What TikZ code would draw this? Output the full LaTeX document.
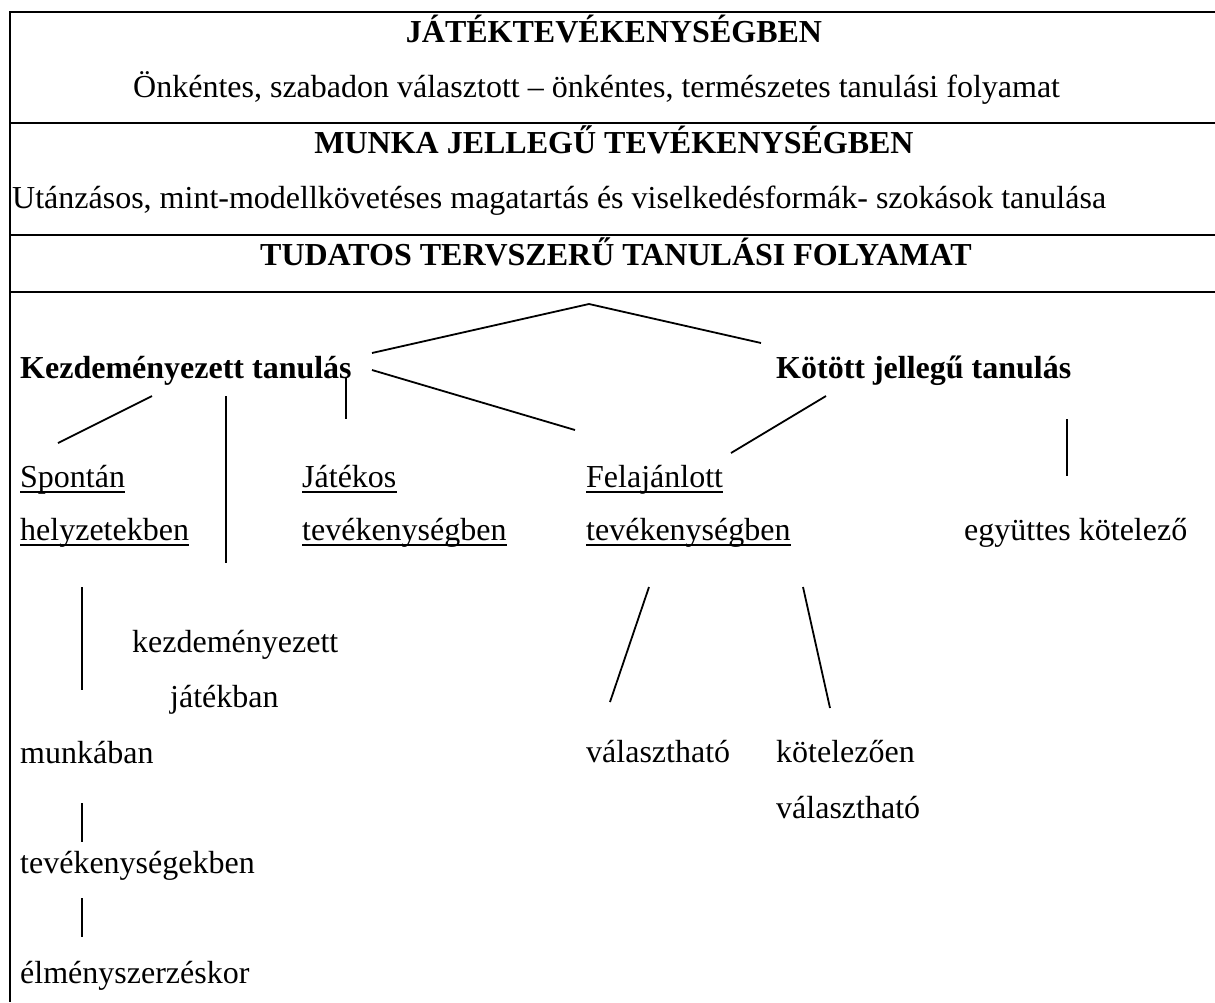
\documentclass[tikz,border=0pt]{standalone}
\usepackage{fontspec}
\setmainfont{Liberation Serif}
\tikzset{
  every node/.style={inner sep=0pt, font=\fontsize{32}{38}\selectfont},
  txt/.style={anchor=base west},
  hd/.style={anchor=base, font=\fontsize{32}{38}\selectfont\bfseries},
  bd/.style={anchor=base west, font=\fontsize{32}{38}\selectfont\bfseries},
  frame/.style={line width=2.6pt},
  branch/.style={line width=1.8pt},
  uline/.style={line width=1.6pt}
}

\begin{document}
\begin{tikzpicture}[x=1pt,y=-1pt]
  \useasboundingbox (0,0) rectangle (1215,1002);
  \draw[frame] (1215,12) -| (10,1002);
  \foreach \y in {123,235,292}
    \draw[frame] (10,\y) -- (1215,\y);

  \node[hd] (jat) at (614,42) {JÁTÉKTEVÉKENYSÉGBEN};
  \node[txt] (onk) at (133,97) {Önkéntes, szabadon választott – önkéntes, természetes tanulási folyamat};
  \node[hd] (munka) at (614,153) {MUNKA JELLEGŰ TEVÉKENYSÉGBEN};
  \node[txt] (utan) at (12,208) {Utánzásos, mint-modellkövetéses magatartás és viselkedésformák- szokások tanulása};
  \node[hd] (tud) at (616,265) {TUDATOS TERVSZERŰ TANULÁSI FOLYAMAT};

  \node[bd] (kezd) at (20,378) {Kezdeményezett tanulás};
  \node[bd] (kot) at (776,378) {Kötött jellegű tanulás};
  \node[txt] (spon) at (20,487) {Spontán};
  \node[txt] (hely) at (20,540) {helyzetekben};
  \node[txt] (jatk) at (302,487) {Játékos};
  \node[txt] (tev1) at (302,540) {tevékenységben};
  \node[txt] (fel) at (586,487) {Felajánlott};
  \node[txt] (tev2) at (586,540) {tevékenységben};
  \node[txt] (egy) at (964,540) {együttes kötelező};
  \node[txt] (kjat) at (132,652) {kezdeményezett};
  \node[txt] (jban) at (170,707) {játékban};
  \node[txt] (munk) at (20,763) {munkában};
  \node[txt] (tevek) at (20,873) {tevékenységekben};
  \node[txt] (elm) at (20,983) {élményszerzéskor};
  \node[txt] (val1) at (586,762) {választható};
  \node[txt] (kotel) at (776,762) {kötelezően};
  \node[txt] (val2) at (776,818) {választható};

  \foreach \n in {spon,hely,jatk,tev1,fel,tev2}
    \draw[uline] ([yshift=-5pt]\n.base west) -- ([yshift=-5pt]\n.base east);

  \coordinate (csucs) at (589,304);
  \coordinate (kezdA) at (372,353);
  \coordinate (kotA) at (761,343);
  \coordinate (kezdB) at (372,370);
  \coordinate (felA) at (575,430);
  \coordinate (sponA) at (152,396);
  \coordinate (sponB) at (58,443);
  \coordinate (kjA) at (226,396);
  \coordinate (kjB) at (226,563);
  \coordinate (jtA) at (346,378);
  \coordinate (jtB) at (346,419);
  \coordinate (kotB) at (826,396);
  \coordinate (felB) at (731,453);
  \coordinate (egyA) at (1067,419);
  \coordinate (egyB) at (1067,476);
  \coordinate (v1A) at (649,587);
  \coordinate (v1B) at (610,702);
  \coordinate (v2A) at (803,587);
  \coordinate (v2B) at (830,708);
  \coordinate (mA) at (82,587);
  \coordinate (mB) at (82,690);
  \coordinate (tA) at (82,803);
  \coordinate (tB) at (82,842);
  \coordinate (eA) at (82,898);
  \coordinate (eB) at (82,937);

  \draw[branch] (kezdA) -- (csucs) -- (kotA);
  \draw[branch] (kezdB) -- (felA);
  \draw[branch] (sponA) -- (sponB);
  \draw[branch] (kjA) -- (kjB);
  \draw[branch] (jtA) -- (jtB);
  \draw[branch] (kotB) -- (felB);
  \draw[branch] (egyA) -- (egyB);
  \draw[branch] (v1A) -- (v1B);
  \draw[branch] (v2A) -- (v2B);
  \draw[branch] (mA) -- (mB);
  \draw[branch] (tA) -- (tB);
  \draw[branch] (eA) -- (eB);
\end{tikzpicture}
\end{document}
